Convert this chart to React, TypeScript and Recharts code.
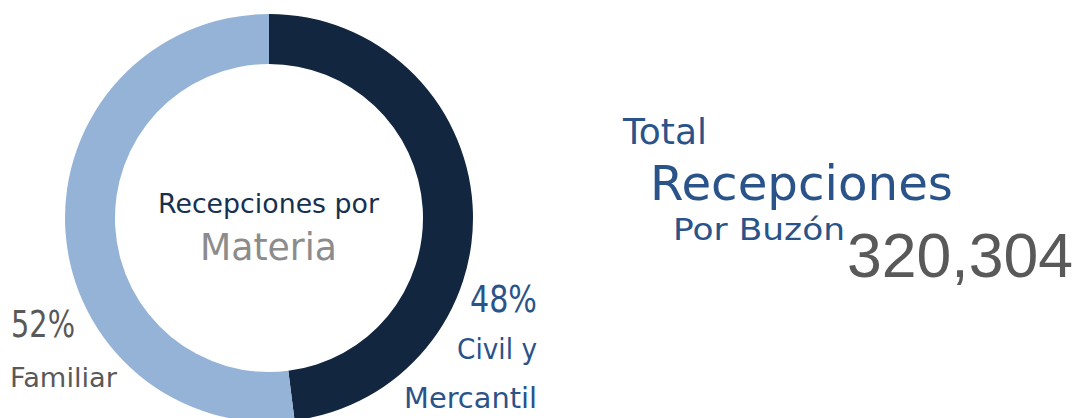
import { PieChart, Pie, Cell } from "recharts";

const categories = ["Civil y Mercantil", "Familiar"];
const shares = [48, 52];
const sliceColors = ["#12263F", "#95B3D7"];
const totalRecepciones = 320304;

const data = categories.map((name, i) => ({ name, value: shares[i] }));

const GOTHIC = "'DejaVu Sans', sans-serif";
const BLUE = "#2A538A";
const GRAY = "#595959";

function Txt({
  x,
  y,
  w,
  size,
  color,
  children,
  family = GOTHIC,
}: {
  x: number;
  y: number;
  w: number;
  size: number;
  color: string;
  children: any;
  family?: string;
}) {
  return (
    <text
      x={x}
      y={y}
      fontSize={size}
      fill={color}
      fontFamily={family}
      textLength={w}
      lengthAdjust="spacingAndGlyphs"
    >
      {children}
    </text>
  );
}

export default function App() {
  const civil = categories[0].split(" ");
  return (
    <div
      style={{
        position: "absolute",
        left: 0,
        top: 0,
        width: 1078,
        height: 418,
        background: "#fff",
        overflow: "hidden",
      }}
    >
      <PieChart
        width={1078}
        height={418}
        margin={{ top: 0, right: 0, bottom: 0, left: 0 }}
      >
        <Pie
          data={data}
          dataKey="value"
          nameKey="name"
          cx={269}
          cy={218}
          innerRadius={154}
          outerRadius={204}
          startAngle={90}
          endAngle={-270}
          stroke="none"
          isAnimationActive={false}
        >
          {data.map((_, i) => (
            <Cell key={`cell-${i}`} fill={sliceColors[i]} />
          ))}
        </Pie>
      </PieChart>
      <svg
        width={1078}
        height={418}
        style={{ position: "absolute", left: 0, top: 0, pointerEvents: "none" }}
      >
        {/* centre of the donut */}
        <Txt x={158} y={213} w={221} size={27} color="#17304F">
          Recepciones por
        </Txt>
        <Txt x={200} y={260} w={137} size={37} color="#8C8C8C">
          Materia
        </Txt>

        {/* slice labels */}
        <Txt x={470} y={312} w={67} size={38} color={BLUE}>
          {`${shares[0]}%`}
        </Txt>
        <Txt x={457} y={359} w={80} size={28} color={BLUE}>
          {`${civil[0]} ${civil[1]}`}
        </Txt>
        <Txt x={404} y={408} w={133} size={28} color={BLUE}>
          {civil[2]}
        </Txt>
        <Txt x={11} y={337} w={64} size={38} color={GRAY}>
          {`${shares[1]}%`}
        </Txt>
        <Txt x={10} y={387} w={107} size={27} color={GRAY}>
          {categories[1]}
        </Txt>

        {/* total block */}
        <Txt x={623} y={144} w={84} size={35} color={BLUE}>
          Total
        </Txt>
        <Txt x={650} y={200} w={303} size={48} color={BLUE}>
          Recepciones
        </Txt>
        <Txt x={673} y={240} w={172} size={30} color={BLUE}>
          Por Buzón
        </Txt>
        <Txt
          x={847}
          y={277}
          w={226}
          size={63}
          color={GRAY}
          family="'Liberation Sans', Arial, sans-serif"
        >
          {totalRecepciones.toLocaleString("en-US")}
        </Txt>
      </svg>
    </div>
  );
}
